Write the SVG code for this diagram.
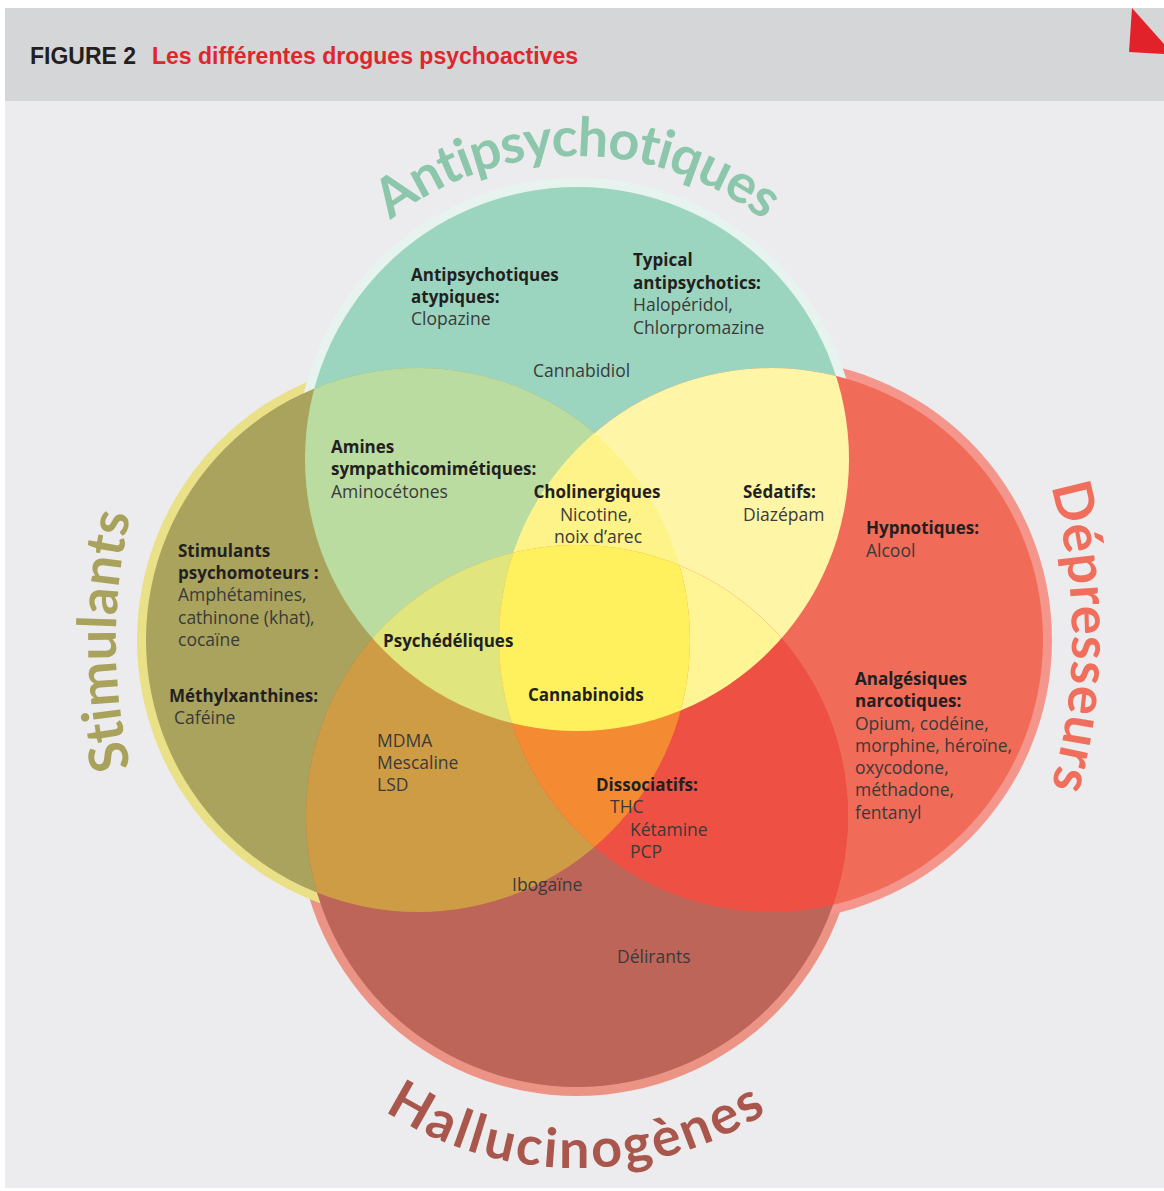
<svg xmlns="http://www.w3.org/2000/svg" width="1164" height="1191" viewBox="0 0 1164 1191">
<defs>
<style>
.b{font-family:"Open Sans","Liberation Sans",sans-serif;font-weight:700;font-size:17px;fill:#231f20}
.r{font-family:"Open Sans","Liberation Sans",sans-serif;font-weight:400;font-size:17.5px;fill:#3a3a3a}
.arc{font-family:Lato,"Open Sans",sans-serif;font-weight:700;font-size:54px;text-anchor:middle}
.hd{font-family:"Liberation Sans",Arial,sans-serif;font-weight:700;font-size:23px}
</style>
<clipPath id="cT"><circle cx="577" cy="459" r="272"/></clipPath>
<clipPath id="cL"><circle cx="418" cy="640" r="272"/></clipPath>
<clipPath id="cR"><circle cx="771" cy="640" r="272"/></clipPath>
<clipPath id="cB"><circle cx="577" cy="816" r="271"/></clipPath>
<path id="pT" d="M274,459 A303,303 0 0 1 880,459"/>
<path id="pL" d="M666,1191 A550,550 0 0 1 666,91"/>
<path id="pR" d="M522,87 A550,550 0 0 1 522,1187"/>
<path id="pB" d="M225,816 A352,352 0 0 0 929,816"/>
</defs>
<rect width="1164" height="1191" fill="#ffffff"/>
<rect x="5" y="101" width="1159" height="1087" fill="#ececee"/>
<g id="header">
<rect x="5" y="8" width="1159" height="93" fill="#d5d6d8"/>
<polygon points="1132,8 1164,44 1164,54 1129,52" fill="#e1222a"/>
<text class="hd" x="30" y="64" fill="#231f20" textLength="106" lengthAdjust="spacingAndGlyphs">FIGURE 2</text>
<text class="hd" x="152" y="64" fill="#e0262d" textLength="426" lengthAdjust="spacingAndGlyphs">Les différentes drogues psychoactives</text>
</g>
<g id="rings">
<circle cx="577" cy="816" r="280" fill="#eb9486"/>
<circle cx="771" cy="640" r="281" fill="#f4968b"/>
<circle cx="418" cy="640" r="281" fill="#e9e087"/>
<circle cx="577" cy="459" r="281" fill="#e7f3ee"/>
</g>
<g id="venn">
<g id="set-antipsychotiques"><circle cx="577" cy="459" r="272" fill="#9bd5bf"/></g>
<g id="set-stimulants"><circle cx="418" cy="640" r="272" fill="#a9a35d"/></g>
<g id="set-depresseurs"><circle cx="771" cy="640" r="272" fill="#f06b58"/></g>
<g id="set-hallucinogenes"><circle cx="577" cy="816" r="271" fill="#bd6558"/></g>
<g id="t-l" clip-path="url(#cT)"><circle cx="418" cy="640" r="272" fill="#bbdca1"/></g>
<g id="t-r" clip-path="url(#cT)"><circle cx="771" cy="640" r="272" fill="#fff5a6"/></g>
<g id="l-b" clip-path="url(#cL)"><circle cx="577" cy="816" r="271" fill="#cf9c46"/></g>
<g id="r-b" clip-path="url(#cR)"><circle cx="577" cy="816" r="271" fill="#ef5044"/></g>
<g id="t-l-r" clip-path="url(#cT)"><g clip-path="url(#cL)"><circle cx="771" cy="640" r="272" fill="#fef389"/></g></g>
<g id="t-l-b" clip-path="url(#cT)"><g clip-path="url(#cL)"><circle cx="577" cy="816" r="271" fill="#e0e57d"/></g></g>
<g id="t-r-b" clip-path="url(#cT)"><g clip-path="url(#cR)"><circle cx="577" cy="816" r="271" fill="#fff594"/></g></g>
<g id="l-r-b" clip-path="url(#cL)"><g clip-path="url(#cR)"><circle cx="577" cy="816" r="271" fill="#f48b33"/></g></g>
<g id="all" clip-path="url(#cT)"><g clip-path="url(#cL)"><g clip-path="url(#cR)"><circle cx="577" cy="816" r="271" fill="#fff05e"/></g></g></g>
</g>
<g id="set-labels">
<text class="arc" fill="#8cc6ab" letter-spacing="-1"><textPath href="#pT" startOffset="50%">Antipsychotiques</textPath></text>
<text class="arc" fill="#a8a25c" letter-spacing="0.3"><textPath href="#pL" startOffset="50%">Stimulants</textPath></text>
<text class="arc" fill="#f06e5c" letter-spacing="0.6"><textPath href="#pR" startOffset="50%">Dépresseurs</textPath></text>
<text class="arc" fill="#a9574d" letter-spacing="2.9"><textPath href="#pB" startOffset="50%">Hallucinogènes</textPath></text>
</g>
<g id="txt-atypiques"><text class="b" x="411" y="281">Antipsychotiques</text><text class="b" x="411" y="303">atypiques:</text><text class="r" x="411" y="325">Clopazine</text></g>
<g id="txt-typical"><text class="b" x="633" y="266">Typical</text><text class="b" x="633" y="289">antipsychotics:</text><text class="r" x="633" y="311">Halopéridol,</text><text class="r" x="633" y="334">Chlorpromazine</text></g>
<g id="txt-cannabidiol"><text class="r" x="533" y="377">Cannabidiol</text></g>
<g id="txt-amines"><text class="b" x="331" y="453">Amines</text><text class="b" x="331" y="475">sympathicomimétiques:</text><text class="r" x="331" y="498">Aminocétones</text></g>
<g id="txt-cholinergiques" text-anchor="middle"><text class="b" x="597" y="498">Cholinergiques</text><text class="r" x="596" y="521">Nicotine,</text><text class="r" x="598" y="543">noix d’arec</text></g>
<g id="txt-sedatifs"><text class="b" x="743" y="498">Sédatifs:</text><text class="r" x="743" y="521">Diazépam</text></g>
<g id="txt-hypnotiques"><text class="b" x="866" y="534">Hypnotiques:</text><text class="r" x="866" y="557">Alcool</text></g>
<g id="txt-stimulants"><text class="b" x="178" y="557">Stimulants</text><text class="b" x="178" y="579">psychomoteurs :</text><text class="r" x="178" y="601">Amphétamines,</text><text class="r" x="178" y="624">cathinone (khat),</text><text class="r" x="178" y="646">cocaïne</text></g>
<g id="txt-methylxanthines"><text class="b" x="169" y="702">Méthylxanthines:</text><text class="r" x="174" y="724">Caféine</text></g>
<g id="txt-psychedeliques"><text class="b" x="383" y="647">Psychédéliques</text></g>
<g id="txt-cannabinoids"><text class="b" x="528" y="701">Cannabinoids</text></g>
<g id="txt-mdma"><text class="r" x="377" y="747">MDMA</text><text class="r" x="377" y="769">Mescaline</text><text class="r" x="377" y="791">LSD</text></g>
<g id="txt-dissociatifs"><text class="b" x="596" y="791">Dissociatifs:</text><text class="r" x="610" y="813">THC</text><text class="r" x="630" y="836">Kétamine</text><text class="r" x="630" y="858">PCP</text></g>
<g id="txt-ibogaine"><text class="r" x="512" y="891">Ibogaïne</text></g>
<g id="txt-delirants"><text class="r" x="617" y="963">Délirants</text></g>
<g id="txt-analgesiques"><text class="b" x="855" y="685">Analgésiques</text><text class="b" x="855" y="707">narcotiques:</text><text class="r" x="855" y="730">Opium, codéine,</text><text class="r" x="855" y="752">morphine, héroïne,</text><text class="r" x="855" y="774">oxycodone,</text><text class="r" x="855" y="796">méthadone,</text><text class="r" x="855" y="819">fentanyl</text></g>
</svg>
